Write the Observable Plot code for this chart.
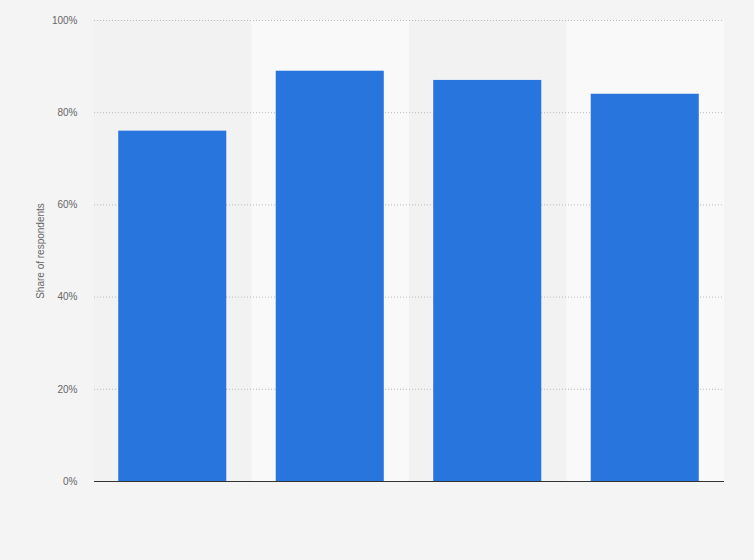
<!DOCTYPE html>
<html>
<head>
<meta charset="utf-8">
<script src="https://cdn.jsdelivr.net/npm/d3@7"></script>
<script src="https://cdn.jsdelivr.net/npm/@observablehq/plot@0.6"></script>
<style>
  html, body { margin: 0; padding: 0; background: #f4f4f4; }
  body { width: 754px; height: 560px; overflow: hidden; font-family: "Liberation Sans", Arial, sans-serif; }
</style>
</head>
<body>
<div id="chart"></div>
<script>
const categories = ["Category 1", "Category 2", "Category 3", "Category 4"];
const values = [76, 89, 87, 84];
const yTicks = [0, 20, 40, 60, 80, 100];
const bandFills = ["#f2f2f2", "#f9f9f9", "#f2f2f2", "#f9f9f9"];

const data = categories.map((c, i) => ({category: c, value: values[i], band: bandFills[i]}));

const chart = Plot.plot({
  width: 754,
  height: 560,
  marginLeft: 94,
  marginRight: 30,
  marginTop: 20,
  marginBottom: 79,
  style: {background: "#f4f4f4", fontFamily: "'Liberation Sans', Arial, sans-serif", fontSize: "10px", color: "#666"},
  x: {domain: categories, paddingInner: 0.314, paddingOuter: 0.157, axis: null, round: false},
  y: {domain: [0, 100], ticks: yTicks, tickFormat: d => d + "%", label: null},
  marks: [
    Plot.barY(data, {x: "category", y1: 0, y2: 100, fill: "band", insetLeft: -24.75, insetRight: -24.75}),
    Plot.gridY(yTicks, {stroke: "#bbb", strokeOpacity: 1, strokeDasharray: "1,2"}),
    Plot.axisY(yTicks, {tickSize: 0, tickPadding: 17, tickFormat: d => d + "%", fill: "#666", fontSize: 10, label: null}),
    Plot.barY(data, {x: "category", y: "value", fill: "#2876dd", dx: -0.5}),
    Plot.ruleY([0], {stroke: "#333", strokeWidth: 1.2}),
    Plot.text(["Share of respondents"], {frameAnchor: "left", textAnchor: "middle", dx: -54, rotate: -90, fill: "#666", fontSize: 10})
  ]
});
document.getElementById("chart").appendChild(chart);
</script>
</body>
</html>
